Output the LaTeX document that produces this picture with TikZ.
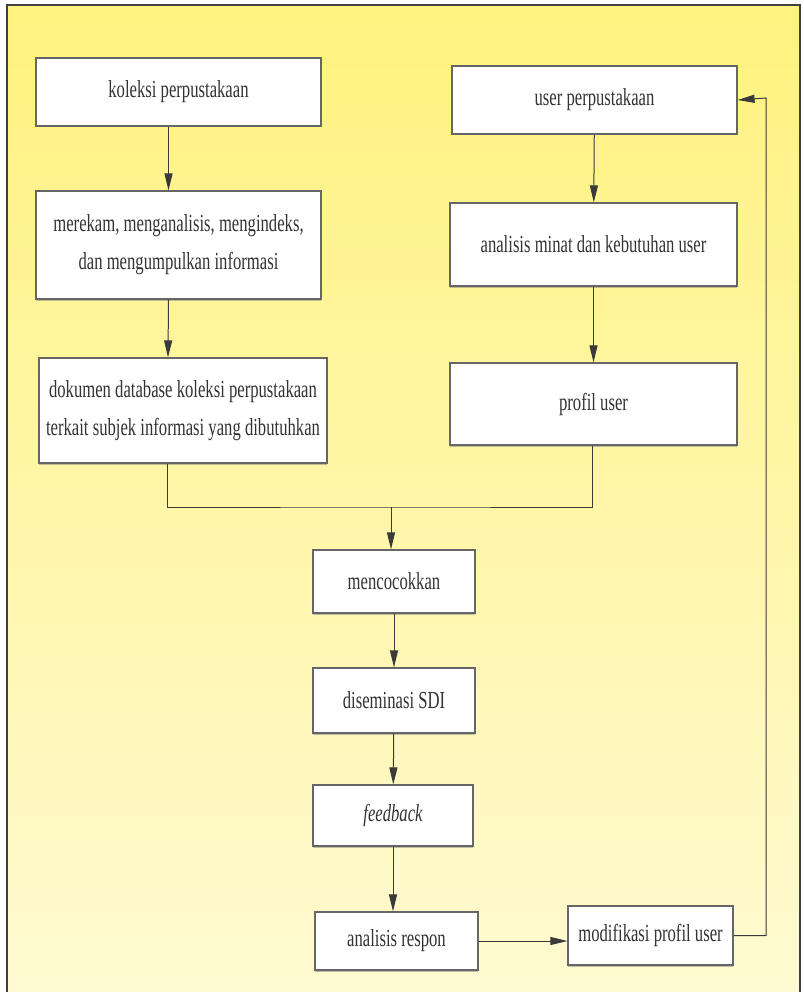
\documentclass[tikz,border=0pt]{standalone}
\usepackage{fontspec}
\setmainfont[FakeStretch=0.68]{Liberation Serif}
\usetikzlibrary{arrows.meta,shadows}
\definecolor{bgtop}{HTML}{FFF27E}
\definecolor{bgbottom}{HTML}{FFFAD2}
\definecolor{linegray}{HTML}{3A3A3A}

\tikzset{
    box/.style={draw=black!60, line width=1.2pt, fill=white, align=center,
        inner sep=2pt, text=black!80,
        font=\fontsize{24.5}{38}\selectfont,
        drop shadow={shadow xshift=0pt, shadow yshift=-1.5pt, opacity=0.5}},
    arr/.style={-{Triangle[length=17pt,width=8pt]}, line width=1pt, draw=linegray},
    link/.style={line width=1pt, draw=linegray}
}

\begin{document}
\begin{tikzpicture}[x=1pt, y=-1pt]
    \useasboundingbox (0,0) rectangle (803,992);
    % background panel
    \shade[top color=bgtop, bottom color=bgbottom] (7,5) rectangle (800,1000);
    \draw[line width=1.5pt, draw=black!75] (7,1000) -- (7,5) -- (800,5) -- (800,1000);

    % left column
    \node[box, minimum width=285, minimum height=68] (koleksi) at (178.5,92)
        {koleksi perpustakaan};
    \node[box, minimum width=285, minimum height=108] (rekam) at (178.5,245)
        {merekam, menganalisis, mengindeks,\\dan mengumpulkan informasi};
    \node[box, minimum width=288, minimum height=105] (dokumen) at (183,410.5)
        {dokumen database koleksi perpustakaan\\terkait subjek informasi yang dibutuhkan};

    % right column
    \node[box, minimum width=285, minimum height=68] (user) at (594.5,100)
        {user perpustakaan};
    \node[box, minimum width=287, minimum height=83] (minat) at (593.5,244.5)
        {analisis minat dan kebutuhan user};
    \node[box, minimum width=287, minimum height=82] (profil) at (593.5,404)
        {profil user};

    % middle column
    \node[box, minimum width=162, minimum height=63] (cocok) at (394,581.5)
        {mencocokkan};
    \node[box, minimum width=162, minimum height=65] (sdi) at (394,700.5)
        {diseminasi SDI};
    \node[box, minimum width=160, minimum height=61] (feedback) at (393,815.5)
        {\itshape feedback};
    \node[box, minimum width=163, minimum height=58] (respon) at (396.5,941)
        {analisis respon};
    \node[box, minimum width=165, minimum height=59] (modif) at (650.5,935.5)
        {modifikasi profil user};

    \coordinate (join) at (391,507);
    \coordinate (loop) at (766,98);

    \draw[arr] ([xshift=-10]koleksi.south) -- ([xshift=-10]rekam.north);
    \draw[arr] ([xshift=-10]rekam.south) -- ([xshift=-15]dokumen.north);
    \draw[arr] (user) -- (minat);
    \draw[arr] (minat) -- (profil);
    \draw[link] ([xshift=-16]dokumen.south) |- (join) -| ([xshift=-1.5]profil.south);
    \draw[arr] (join) -- (join |- cocok.north);
    \draw[arr] (cocok) -- (sdi);
    \draw[arr] (sdi) -- (feedback);
    \draw[arr] (feedback.south) -- (feedback.south |- respon.north);
    \draw[arr] (respon) -- (modif.west |- respon);
    \draw[arr] (modif.east) -| (loop) -- (user.east);
\end{tikzpicture}
\end{document}
